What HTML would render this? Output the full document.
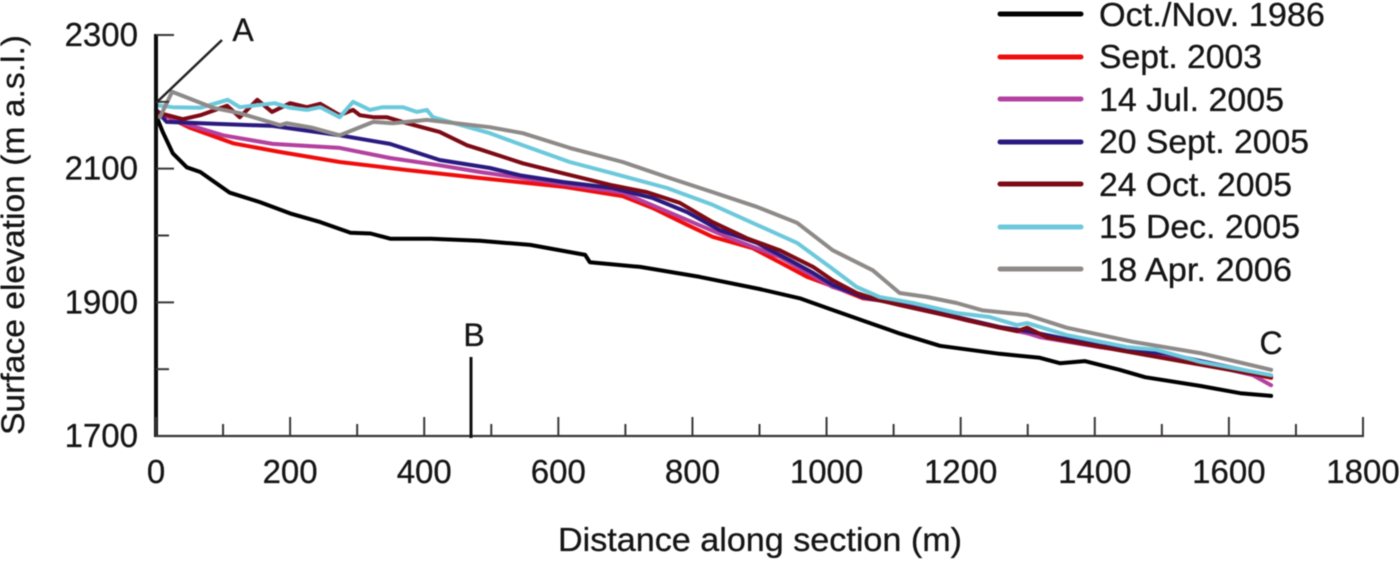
<!DOCTYPE html>
<html lang="en">
<head>
<meta charset="utf-8">
<title>Surface elevation along section</title>
<style>
html,body{margin:0;padding:0;background:#fff;width:1400px;height:561px;overflow:hidden}
svg{display:block;filter:blur(0.6px)}
text{font-family:"Liberation Sans",sans-serif;fill:#151515;stroke:#151515;stroke-width:0.3px}
</style>
</head>
<body>
<svg id="chart" xmlns="http://www.w3.org/2000/svg" width="1400" height="561" viewBox="0 0 1400 561">
  <rect width="1400" height="561" fill="#fff"/>
  <g id="series-layer" fill="none" stroke-width="4" stroke-linejoin="round" stroke-linecap="round"></g>
  <g id="axis-layer"></g>
  <text transform="translate(24,435) rotate(-90)" font-size="32" textLength="400" lengthAdjust="spacingAndGlyphs">Surface elevation (m a.s.l.)</text>
  <text x="558" y="551" font-size="33" textLength="404" lengthAdjust="spacingAndGlyphs">Distance along section (m)</text>
  <line x1="156" y1="103" x2="222" y2="40" stroke="#222" stroke-width="2.5"/>
  <text x="243" y="41" font-size="32" text-anchor="middle">A</text>
  <line x1="471" y1="357" x2="471" y2="438" stroke="#111" stroke-width="3"/>
  <text x="474" y="346" font-size="32" text-anchor="middle">B</text>
  <text x="1271" y="354" font-size="32" text-anchor="middle">C</text>
  <g font-size="33">
    <g><line x1="1000" y1="14" x2="1081" y2="14" stroke="#000" stroke-width="5" stroke-linecap="round"/><text x="1099" y="26" textLength="226" lengthAdjust="spacingAndGlyphs">Oct./Nov. 1986</text></g>
    <g><line x1="1000" y1="57" x2="1081" y2="57" stroke="#f00c0c" stroke-width="5" stroke-linecap="round"/><text x="1099" y="68" textLength="163" lengthAdjust="spacingAndGlyphs">Sept. 2003</text></g>
    <g><line x1="1000" y1="99" x2="1081" y2="99" stroke="#b4409f" stroke-width="5" stroke-linecap="round"/><text x="1099" y="111" textLength="185" lengthAdjust="spacingAndGlyphs">14 Jul. 2005</text></g>
    <g><line x1="1000" y1="142" x2="1081" y2="142" stroke="#2a1a80" stroke-width="5" stroke-linecap="round"/><text x="1099" y="153" textLength="210" lengthAdjust="spacingAndGlyphs">20 Sept. 2005</text></g>
    <g><line x1="1000" y1="184" x2="1081" y2="184" stroke="#7d0a14" stroke-width="5" stroke-linecap="round"/><text x="1099" y="196" textLength="193" lengthAdjust="spacingAndGlyphs">24 Oct. 2005</text></g>
    <g><line x1="1000" y1="227" x2="1081" y2="227" stroke="#6cc9dc" stroke-width="5" stroke-linecap="round"/><text x="1099" y="238" textLength="201" lengthAdjust="spacingAndGlyphs">15 Dec. 2005</text></g>
    <g><line x1="1000" y1="269" x2="1081" y2="269" stroke="#8e8a88" stroke-width="5" stroke-linecap="round"/><text x="1099" y="281" textLength="193" lengthAdjust="spacingAndGlyphs">18 Apr. 2006</text></g>
  </g>
</svg>
<script>
var xTicks = [0,100,200,300,400,500,600,700,800,900,1000,1100,1200,1300,1400,1500,1600,1700,1800];
var xTickLabels = ["0","200","400","600","800","1000","1200","1400","1600","1800"];
var yTicks = [1700,1800,1900,2000,2100,2200,2300];
var yTickLabels = ["1700","1900","2100","2300"];

var oct1986Dist = [0,10,25,46,66,110,155,200,245,290,320,350,410,483,558,640,647,722,811,900,960,1005,1065,1110,1169,1258,1318,1348,1385,1437,1475,1557,1617,1663];
var oct1986Elev = [2180,2155,2123,2102,2095,2064,2050,2033,2020,2004,2003,1995,1995,1992,1986,1971,1960,1953,1938,1920,1906,1890,1869,1853,1835,1823,1817,1809,1812,1799,1788,1775,1764,1760];

var sept2003Dist = [0,6,51,115,185,274,374,483,607,696,741,792,830,890,930,971,1009,1054,1109,1194,1258,1299,1408,1507,1663];
var sept2003Elev = [2185,2183,2161,2138,2125,2110,2098,2086,2073,2059,2041,2016,1998,1981,1960,1938,1924,1906,1899,1877,1863,1854,1833,1820,1787];

var jul2005Dist = [0,6,40,100,174,274,349,423,483,607,696,781,856,930,1009,1054,1109,1209,1258,1299,1318,1408,1507,1636,1663];
var jul2005Elev = [2188,2183,2168,2150,2137,2131,2116,2105,2095,2077,2064,2028,1996,1968,1923,1909,1899,1873,1862,1854,1848,1833,1821,1791,1776];

var sept2005Dist = [0,16,91,174,274,349,423,498,543,607,681,741,792,841,896,945,980,1009,1054,1109,1194,1258,1299,1408,1507,1663];
var sept2005Elev = [2188,2170,2167,2164,2150,2137,2113,2101,2090,2080,2071,2056,2035,2008,1989,1963,1944,1926,1908,1897,1878,1863,1857,1835,1823,1790];

var oct2005Dist = [0,6,40,66,106,125,151,173,200,225,245,274,294,304,324,344,374,423,464,483,547,607,681,732,781,830,881,930,980,1009,1045,1079,1109,1194,1258,1284,1299,1328,1433,1663];
var oct2005Elev = [2185,2183,2174,2180,2194,2177,2203,2185,2198,2192,2197,2180,2188,2180,2177,2177,2168,2155,2135,2129,2108,2093,2075,2065,2049,2020,1996,1978,1953,1933,1914,1903,1896,1877,1862,1857,1862,1848,1829,1788];

var dec2005Dist = [0,25,66,107,125,151,177,200,225,245,274,294,319,338,368,389,404,413,498,547,617,681,762,830,896,956,1005,1045,1079,1129,1194,1243,1284,1299,1358,1448,1492,1557,1663];
var dec2005Elev = [2195,2192,2191,2203,2192,2195,2198,2191,2188,2192,2177,2200,2188,2192,2192,2185,2188,2177,2153,2135,2110,2093,2071,2046,2016,1989,1953,1923,1908,1899,1884,1878,1866,1869,1851,1833,1829,1811,1791];

var apr2006Dist = [0,6,24,85,125,185,195,234,274,324,353,404,498,547,617,696,766,830,896,956,1009,1069,1109,1150,1194,1233,1299,1358,1457,1557,1663];
var apr2006Elev = [2179,2177,2215,2191,2183,2165,2168,2161,2150,2170,2168,2173,2162,2153,2131,2110,2086,2065,2043,2019,1978,1948,1914,1908,1899,1888,1881,1862,1841,1824,1799];

var NS = "http://www.w3.org/2000/svg";
var plotLeft = 156, plotRight = 1363, plotBottom = 436, plotTop = 35;
function xScale(d){ return plotLeft + (d / 1800) * (plotRight - plotLeft); }
function yScale(e){ return plotBottom - ((e - 1700) / 600) * (plotBottom - plotTop); }

function drawSeries(name, color, dist, elev){
  var p = document.createElementNS(NS, "polyline");
  var pts = [];
  for (var i = 0; i < dist.length; i++){ pts.push(xScale(dist[i]).toFixed(1) + "," + yScale(elev[i]).toFixed(1)); }
  p.setAttribute("points", pts.join(" "));
  p.setAttribute("stroke", color);
  
  
  document.getElementById("series-layer").appendChild(p);
}
drawSeries("series-oct-nov-1986", "#000000", oct1986Dist, oct1986Elev);
drawSeries("series-sept-2003", "#f00c0c", sept2003Dist, sept2003Elev);
drawSeries("series-14-jul-2005", "#b4409f", jul2005Dist, jul2005Elev);
drawSeries("series-20-sept-2005", "#2a1a80", sept2005Dist, sept2005Elev);
drawSeries("series-24-oct-2005", "#7d0a14", oct2005Dist, oct2005Elev);
drawSeries("series-15-dec-2005", "#6cc9dc", dec2005Dist, dec2005Elev);
drawSeries("series-18-apr-2006", "#8e8a88", apr2006Dist, apr2006Elev);

var axisLayer = document.getElementById("axis-layer");
function addLine(name, x1, y1, x2, y2, color, width){
  var l = document.createElementNS(NS, "line");
  l.setAttribute("x1", x1);
  l.setAttribute("y1", y1);
  l.setAttribute("x2", x2);
  l.setAttribute("y2", y2);
  l.setAttribute("stroke", color);
  l.setAttribute("stroke-width", width);
  
  
  axisLayer.appendChild(l);
}
function addLabel(name, x, y, anchor, str){
  var t = document.createElementNS(NS, "text");
  t.setAttribute("x", x);
  t.setAttribute("y", y);
  t.setAttribute("text-anchor", anchor);
  t.setAttribute("font-size", "33");
  t.textContent = str;
  
  
  axisLayer.appendChild(t);
}
addLine("x-axis-line", plotLeft, plotBottom, plotRight + 1, plotBottom, "#3a3636", 2.2);
addLine("y-axis-line", plotLeft, plotTop - 1, plotLeft, plotBottom + 1, "#0c0c0c", 4);
xTicks.forEach(function(v, i){
  var major = i % 2 === 0;
  addLine("x-tick", xScale(v), plotBottom, xScale(v), major ? 417 : 424, "#3a3636", 2);
});
yTicks.forEach(function(v, i){
  var major = i % 2 === 0;
  addLine("y-tick", plotLeft, yScale(v), major ? 174 : 169, yScale(v), "#3a3636", 2);
});
xTickLabels.forEach(function(s){
  addLabel("x-tick-label", xScale(Number(s)), 483, "middle", s);
});
yTickLabels.forEach(function(s){
  addLabel("y-tick-label", 138, yScale(Number(s)) + 11, "end", s);
});
</script>
</body>
</html>
